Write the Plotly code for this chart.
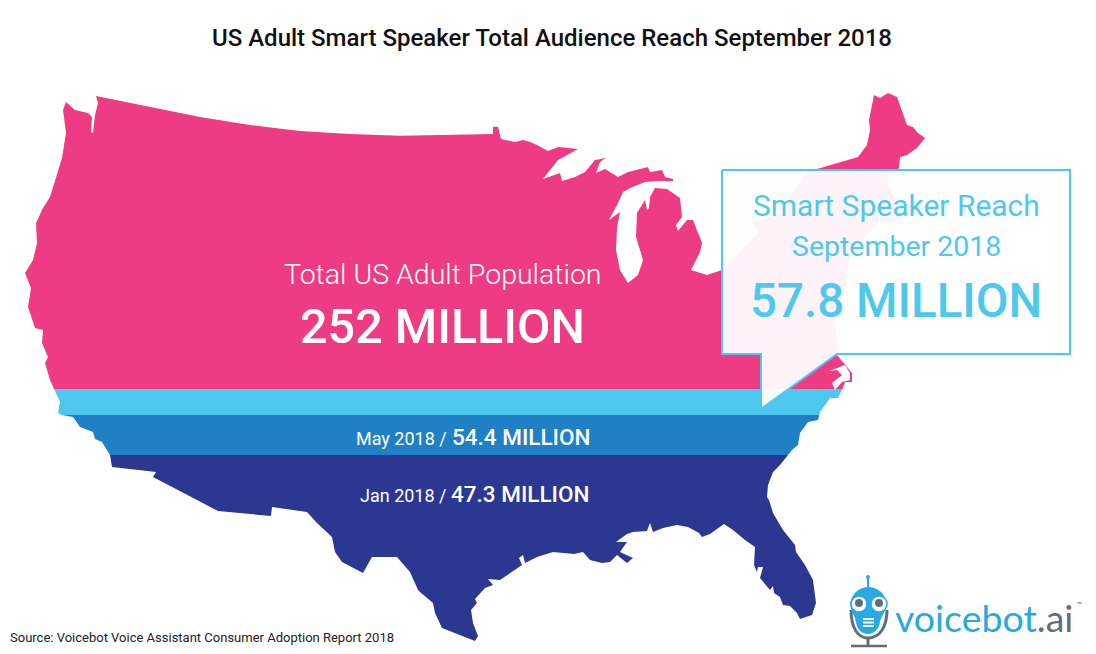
import plotly.graph_objects as go

# --- Outline of the contiguous US (image pixels) ---
coast_pts = [
 (96,96),(150,107),(200,117),(250,125),(300,131),(350,134),(400,135.7),(493,134),(493,126.7),(498,126.7),(501,139),(515,142),(523,140),(530,142),(537,145),(548,151),(558,147),(578,149),(558,160),(550,170),(543,179),(560,173),(562,181),(575,177),(585,172),(595,160),(606,158),(600,162),(596,173),(605,169),(618,177),(628,172),(648,167),(650,172),(662,170),(665,177),(673,179),(673,181),(657,181),(645,182),(630,188),(623,192),(618,203),(609,220),(620,212),(617,228),(616,250),(620,270),(628,283),(638,275),(643,260),(636,237),(637,213),(645,200),(647,210),(649,208),(650,197),(655,188),(667,189),(680,198),(682,217),(676,225),(678,231),(687,220),(693,220),(702,243),(700,252),(691,270),(707,275),(722,270),
 (743,248),(758,233),(753,223),(790,210),(790,195),(807,173),(817,169),(858,157),(867,145),(870,130),(869,120),(874,95),(880,98),(888,93),(897,97),(907,125),(913,127),(918,133),(925,138),(917,148),(907,155),(900,157),(899,168),(888,177),(887,180),(903,220),(877,223),(850,257),(847,270),(845,293),(833,313),(838,347),(837,355),(852,373),(852,382),(845,382),(842,390),(838,398),(830,398),(820,412),(818,420),(808,422),(800,433),(798,445),(792,450),(788,455),(780,465),(773,472),(768,485),(767,497),(769,500),(773,513),(783,530),(795,545),(796,552),(805,565),(813,580),(816,603),(812,615),(800,619),(797,613),(790,606),(783,605),(780,597),(774,593),(773,586),(770,590),(760,578),(763,567),(758,567),(757,572),(754,565),(755,547),(745,540),(733,530),(724,524),(718,528),(710,534),(702,537),(699,533),(688,527),(677,525),(663,528),(653,532),(650,523),(647,531),(633,532),(627,534),(616,542),(627,542),(620,552),(633,558),(627,563),(617,555),(610,562),(602,563),(590,560),(583,552),(574,554),(553,552),(537,557),(525,563),(523,555),(519,558),(522,565),(500,580),(488,579),(493,585),(485,588),(475,599),(477,603),(471,610),(473,623),(478,636),(475,641),(460,635),(442,628),(435,613),(433,603),(420,592),(418,590),(410,572),(397,557),(372,557),(363,573),(342,562),(335,552),(332,537),(317,523),(307,512),(272,507),(271,516),(218,511),(153,477),(156,472),(112,467),(110,455),(102,442),(95,439),(93,432),(80,427),(73,417),(62,415),(58,413),(60,402),(50,380),(45,363),(48,357),(42,343),(43,330),(35,328),(28,307),(31,288),(25,273),(33,260),(37,243),(36,223),(43,208),(50,197),(62,158),(63,152),(66,133),(63,110),(66,102),(75,110),(88,113),(92,117),(91,132),(93,133),(95,115),(98,103)]
coast_x = [p[0] for p in coast_pts]
coast_y = [p[1] for p in coast_pts]
sound_x = [829,838,845,850,850,842,835,832,842,837]
sound_y = [371,368,365,373,380,382,390,383,375,370]

# --- Audience figures and bands ---
band_names = ["Total US Adult Population", "Smart Speaker Reach September 2018", "May 2018", "Jan 2018"]
band_values = ["252 MILLION", "57.8 MILLION", "54.4 MILLION", "47.3 MILLION"]
band_top = [90, 389, 415, 455]
band_bottom = [389, 415, 455, 645]
band_colors = ["#EE3C84", "#4DC7EE", "#1F80C5", "#2C3791"]

callout_x = [722, 1070, 1070, 837, 761, 761, 722, 722]
callout_y = [170, 170, 354, 354, 409, 354, 354, 170]

FONT = "Roboto"
CYAN = "#4FC8EE"
BLUE = "#29A9E0"
GREY = "#5F6F7A"


def clip(xs, ys, limit, keep_below):
    inside = (lambda v: v >= limit) if keep_below else (lambda v: v <= limit)
    ox, oy = [], []
    n = len(xs)
    for i in range(n):
        x0, y0, x1, y1 = xs[i], ys[i], xs[(i + 1) % n], ys[(i + 1) % n]
        if inside(y0):
            ox.append(x0); oy.append(y0)
        if inside(y0) != inside(y1):
            t = (limit - y0) / (y1 - y0)
            ox.append(x0 + t * (x1 - x0)); oy.append(limit)
    return ox, oy


fig = go.Figure()
for name, top, bottom, color in zip(band_names, band_top, band_bottom, band_colors):
    bx, by = clip(coast_x, coast_y, top, True)
    bx, by = clip(bx, by, bottom, False)
    fig.add_trace(go.Scatter(x=bx + bx[:1], y=by + by[:1], mode="lines", fill="toself",
                             fillcolor=color, line=dict(width=0, color=color), name=name,
                             hoverinfo="name", showlegend=False))
fig.add_trace(go.Scatter(x=sound_x + sound_x[:1], y=sound_y + sound_y[:1], mode="lines", fill="toself",
                         fillcolor="white", line=dict(width=0, color="white"),
                         hoverinfo="skip", showlegend=False))
fig.add_trace(go.Scatter(x=callout_x, y=callout_y, mode="lines", fill="toself",
                         fillcolor="rgba(255,255,255,0.94)", line=dict(width=2, color=CYAN),
                         hoverinfo="skip", showlegend=False))


def label(x, y, text, size, color, family=FONT, anchor="center", weight=400):
    fig.add_annotation(x=x, y=y, text=text, showarrow=False, xanchor=anchor, yanchor="middle",
                       font=dict(family=family, size=size, color=color, weight=weight),
                       xref="x", yref="y", borderpad=0, borderwidth=0)


label(552, 38, "US Adult Smart Speaker Total Audience Reach September 2018", 24, "#111111", weight=500)
label(443, 274, band_names[0], 28.5, "white", weight=300)
label(442, 326, band_values[0], 48.5, "white", weight=500)
label(896, 205, "Smart Speaker Reach", 30, CYAN)
label(896, 246, "September 2018", 28.5, CYAN)
label(896, 301, band_values[1], 47.5, CYAN, weight=500)
label(447, 438, f"{band_names[2]} /", 18, "white", anchor="right")
label(452, 437, band_values[2], 22.5, "white", anchor="left", weight=500)
label(446, 495, f"{band_names[3]} /", 18, "white", anchor="right")
label(451, 494, band_values[3], 22.5, "white", anchor="left", weight=500)
label(10, 637, "Source: Voicebot Voice Assistant Consumer Adoption Report 2018", 13, "#222222", anchor="left")

# Logo wordmark
label(895, 617, f"<span style='color:{BLUE}'>voicebot</span><span style='color:{GREY}'>.ai</span>", 37.5, BLUE, "Lato", "left")
label(1079, 605, "™", 8, GREY)

# Logo robot
def circle(cx, cy, rx, ry, fill, line=None, w=0):
    fig.add_shape(type="circle", x0=cx - rx, x1=cx + rx, y0=cy - ry, y1=cy + ry,
                  fillcolor=fill, line=dict(color=line or fill, width=w))


fig.add_shape(type="path", path="M 851 610 C 851 628 858 638 868 638 C 879 638 887 628 887 610",
              line=dict(color=GREY, width=3))
fig.add_shape(type="line", x0=868, x1=868, y0=638, y1=646, line=dict(color=GREY, width=3))
fig.add_shape(type="line", x0=851, x1=887, y0=646, y1=646, line=dict(color=GREY, width=2.5))
fig.add_shape(type="line", x0=868, x1=868, y0=578, y1=590, line=dict(color=BLUE, width=2))
circle(868, 577, 2, 2, BLUE)
fig.add_shape(type="path",
              path="M 850 604 C 852 592 861 587 868 587 C 876 587 885 592 887 604 C 886 612 881 616 880 622 C 879 630 873 634 868 634 C 862 634 857 630 856 622 C 855 616 851 612 850 604 Z",
              fillcolor=BLUE, line=dict(width=0))
for ex in (859, 879):
    circle(ex, 604, 8, 8, "white", BLUE, 1.5)
    circle(ex, 603, 4, 4, GREY)
for gy in (619, 622.5, 626):
    fig.add_shape(type="line", x0=863, x1=874, y0=gy, y1=gy, line=dict(color="white", width=2))

fig.update_xaxes(range=[0, 1096], visible=False, fixedrange=True)
fig.update_yaxes(range=[654, 0], visible=False, fixedrange=True)
fig.update_layout(width=1096, height=654, margin=dict(l=0, r=0, t=0, b=0),
                  paper_bgcolor="white", plot_bgcolor="white", showlegend=False)
fig.write_html("out.html", config={"displayModeBar": False},
               post_script="document.body.style.margin='0';")
